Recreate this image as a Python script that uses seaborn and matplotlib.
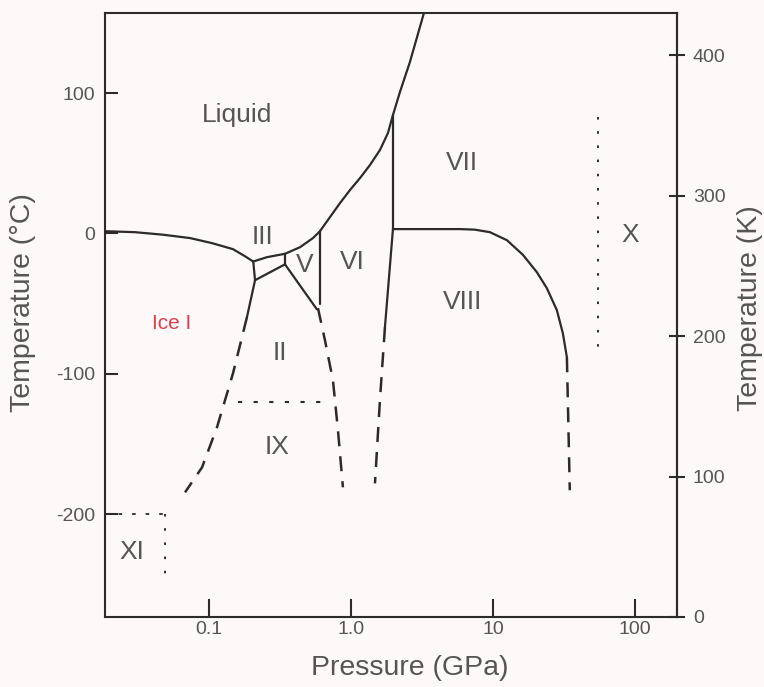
import matplotlib
matplotlib.use("Agg")
import matplotlib.pyplot as plt
import seaborn as sns

# ---------------- data (pressure in GPa, temperature in °C) ----------------
melt_I_P = [0.0185, 0.0301, 0.0474, 0.0735, 0.105, 0.1476, 0.179, 0.205]
melt_I_T = [1.6, 0.9, -0.9, -3.3, -6.9, -11.2, -16.2, -20.0]

melt_III_P = [0.205, 0.256, 0.343]
melt_III_T = [-20.0, -16.9, -14.5]

melt_V_P = [0.343, 0.4375, 0.540, 0.605]
melt_V_T = [-14.5, -9.8, -3.3, 1.6]

melt_VI_P = [0.605, 0.711, 0.837, 0.984, 1.157, 1.361, 1.600, 1.822, 1.976]
melt_VI_T = [1.6, 11.6, 21.6, 30.9, 39.4, 48.7, 59.4, 71.5, 84.3]

melt_VII_P = [1.976, 2.213, 2.603, 3.266, 3.48]
melt_VII_T = [84.3, 100.7, 122.1, 157.0, 166.0]

I_III_P = [0.205, 0.211]
I_III_T = [-20.0, -33.3]

II_III_P = [0.211, 0.343]
II_III_T = [-33.3, -22.0]

III_V_P = [0.343, 0.343]
III_V_T = [-14.5, -22.0]

II_V_P = [0.343, 0.575]
II_V_T = [-22.0, -54.0]

V_VI_P = [0.605, 0.605]
V_VI_T = [1.6, -50.5]

I_II_P = [0.211, 0.185]
I_II_T = [-33.3, -59.7]

I_II_dash_P = [0.185, 0.1476, 0.1138, 0.0893, 0.0678]
I_II_dash_T = [-59.7, -99.6, -138.1, -166.6, -184.4]

II_VI_dash_P = [0.5856, 0.656, 0.7467, 0.810, 0.878]
II_VI_dash_T = [-53.2, -76.1, -104.6, -140.2, -180.8]

VI_VII_P = [1.976, 1.976]
VI_VII_T = [84.3, 3.1]

VI_VIII_P = [1.976, 1.735]
VI_VIII_T = [3.1, -66.8]

VI_VIII_dash_P = [1.735, 1.60, 1.476]
VI_VIII_dash_T = [-66.8, -118.8, -178.0]

VII_VIII_P = [1.976, 5.855, 7.46, 9.52, 12.55, 16.26, 20.4, 23.99, 28.23, 31.1, 33.2]
VII_VIII_T = [3.1, 3.1, 2.7, 0.9, -4.8, -15.2, -27.6, -39.0, -54.7, -71.1, -88.2]

VII_VIII_dash_P = [33.2, 34.8]
VII_VIII_dash_T = [-88.2, -182.9]

VII_X_P = [54.8, 54.8]
VII_X_T = [82.9, -86.8]

II_IX_P = [0.160, 0.656]
II_IX_T = [-120.2, -120.2]

XI_h_P = [0.0185, 0.049]
XI_h_T = [-200.1, -200.1]

XI_v_P = [0.049, 0.049]
XI_v_T = [-200.1, -249.3]

phase_names = ["Liquid", "III", "V", "VI", "II", "IX", "Ice I", "VII", "VIII", "X", "XI"]
phase_P = [0.157, 0.240, 0.474, 1.016, 0.316, 0.301, 0.0549, 6.05, 6.15, 92.3, 0.0287]
phase_T = [84.3, -2.6, -22.6, -20.5, -85.3, -152.3, -63.9, 50.1, -49.0, -1.2, -227.2]

x_ticks = [0.1, 1.0, 10, 100]
x_tick_labels = ["0.1", "1.0", "10", "100"]
yC_ticks = [-200, -100, 0, 100]
yK_ticks = [0, 100, 200, 300, 400]

# ---------------- styling ----------------
sns.set_theme(style="white")
plt.rcParams["font.family"] = ["Liberation Sans", "DejaVu Sans"]

BG = "#fdf9f8"
LINE = "#2b2b2b"
TXT = "#555555"
RED = "#d9404f"

fig = plt.figure(figsize=(7.64, 6.87), dpi=100, facecolor=BG)
ax = fig.add_axes([0.1374, 0.1019, 0.7487, 0.8792], facecolor=BG)
ax.set_xscale("log")
ax.set_xlim(0.0185, 198)
ax.set_ylim(-273.15, 157)

def seg(P, T, ls="-", lw=1.6):
    sns.lineplot(x=P, y=T, ax=ax, sort=False, estimator=None, color=LINE,
                 linewidth=lw, linestyle=ls, legend=False)

DASH = (0, (6, 4))
DOT = (0, (2, 5.5))
FINEDOT = (0, (1.3, 6))

for P, T in [(melt_I_P, melt_I_T), (melt_III_P, melt_III_T), (melt_V_P, melt_V_T),
             (melt_VI_P, melt_VI_T), (melt_VII_P, melt_VII_T), (I_III_P, I_III_T),
             (II_III_P, II_III_T), (III_V_P, III_V_T), (II_V_P, II_V_T),
             (V_VI_P, V_VI_T), (I_II_P, I_II_T), (VI_VII_P, VI_VII_T),
             (VI_VIII_P, VI_VIII_T), (VII_VIII_P, VII_VIII_T)]:
    seg(P, T)

for P, T in [(I_II_dash_P, I_II_dash_T), (II_VI_dash_P, II_VI_dash_T),
             (VI_VIII_dash_P, VI_VIII_dash_T), (VII_VIII_dash_P, VII_VIII_dash_T)]:
    seg(P, T, ls=DASH, lw=1.8)

seg(II_IX_P, II_IX_T, ls=DOT, lw=1.5)
seg(XI_h_P, XI_h_T, ls=DOT, lw=1.3)
seg(XI_v_P, XI_v_T, ls=FINEDOT, lw=1.4)
seg(VII_X_P, VII_X_T, ls=FINEDOT, lw=1.4)

for name, P, T in zip(phase_names, phase_P, phase_T):
    if name == "Ice I":
        ax.text(P, T, name, color=RED, fontsize=15, ha="center", va="center")
    else:
        ax.text(P, T, name, color=TXT, fontsize=19, ha="center", va="center")

# axes
for sp in ax.spines.values():
    sp.set_color(LINE)
    sp.set_linewidth(1.5)
    sp.set_visible(True)

ax.set_xticks(x_ticks)
ax.set_xticklabels(x_tick_labels)
ax.xaxis.set_minor_locator(matplotlib.ticker.NullLocator())
ax.set_yticks(yC_ticks)
ax.set_yticklabels([str(v) for v in yC_ticks])
ax.tick_params(axis="x", direction="in", length=13, width=1.5, color=LINE,
               labelsize=14, labelcolor=TXT, pad=3, bottom=True, top=False)
ax.tick_params(axis="y", direction="in", length=9.5, width=1.5, color=LINE,
               labelsize=14, labelcolor=TXT, pad=7, left=True, right=False)

ax.set_xlabel("Pressure (GPa)", fontsize=20.5, color=TXT)
ax.xaxis.label.set_va("center")
ax.xaxis.set_label_coords(0.533, -0.084)
ax.set_ylabel("Temperature (°C)", fontsize=20.5, color=TXT)
ax.yaxis.label.set_va("center")
ax.yaxis.set_label_coords(-0.143, 0.52)

sec = ax.secondary_yaxis("right", functions=(lambda c: c + 273.15, lambda k: k - 273.15))
sec.set_yticks(yK_ticks)
sec.set_yticklabels([str(v) for v in yK_ticks])
sec.tick_params(axis="y", direction="inout", length=11, width=1.5, color=LINE,
                labelsize=14, labelcolor=TXT, pad=6)
sec.spines["right"].set_color(LINE)
sec.spines["right"].set_linewidth(1.5)
fig.text(750 / 764, 1 - 308 / 687, "Temperature (K)", rotation=90, fontsize=20.5,
         color=TXT, ha="center", va="center")

fig.savefig("out.png", dpi=100, facecolor=BG)
